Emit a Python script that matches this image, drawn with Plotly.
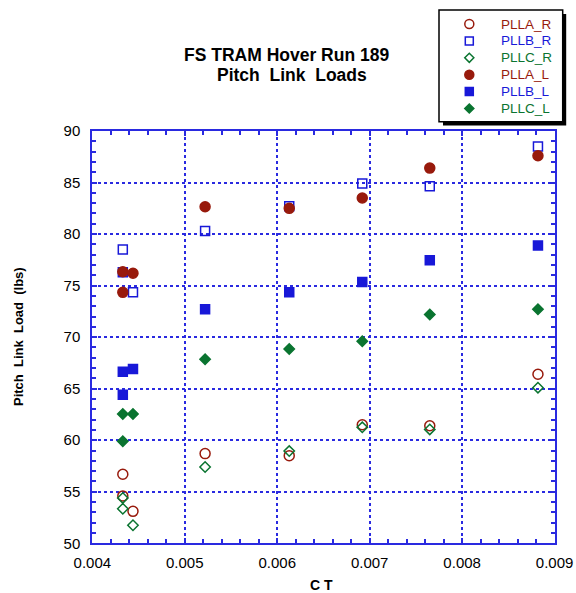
import plotly.graph_objects as go

# ---------------- data ----------------
ct = [0.00433, 0.00433, 0.00444, 0.00522, 0.00613, 0.00692, 0.00765, 0.00882]

plla_r = [56.7, 54.6, 53.1, 58.7, 58.5, 61.5, 61.4, 66.4]
pllb_r = [78.5, 76.3, 74.35, 80.3, 82.7, 84.9, 84.65, 88.5]
pllc_r = [54.4, 53.35, 51.75, 57.4, 58.95, 61.25, 61.05, 65.1]
plla_l = [76.35, 74.35, 76.2, 82.65, 82.5, 83.5, 86.4, 87.6]
pllb_l = [66.65, 64.4, 66.9, 72.7, 74.35, 75.35, 77.45, 78.9]
pllc_l = [62.55, 59.9, 62.55, 67.85, 68.85, 69.6, 72.2, 72.7]

series_names = ["PLLA_R", "PLLB_R", "PLLC_R", "PLLA_L", "PLLB_L", "PLLC_L"]
series_values = [plla_r, pllb_r, pllc_r, plla_l, pllb_l, pllc_l]

title_lines = ["FS TRAM Hover Run 189", "Pitch  Link  Loads"]
x_title = "C T"
y_title = "Pitch  Link  Load  (lbs)"

# ---------------- styles ----------------
RED = "#981a0c"
BLUE = "#1818d8"
GREEN = "#0a7430"
AXIS = "#2a2ae0"
FONT = "Liberation Sans, Arial, sans-serif"

symbols = ["circle-open", "square-open", "diamond-open", "circle", "square", "diamond"]
colors = [RED, BLUE, GREEN, RED, BLUE, GREEN]
sizes = [10, 9, 8, 10, 9, 8]

W, H = 576, 593
# plot area in pixels
PX0, PX1 = 92.3, 554.6
PY0, PY1 = 131.0, 543.3   # top, bottom


def px(x):
    return x / W


def py(y):
    return (H - y) / H


fig = go.Figure()
for name, ys, sym, col, sz in zip(series_names, series_values, symbols, colors, sizes):
    fig.add_trace(go.Scatter(
        x=ct, y=ys, mode="markers", name=name, showlegend=False,
        marker=dict(symbol=sym, color=col, size=sz, opacity=1,
                    line=dict(color=col, width=1.5)),
        xaxis="x", yaxis="y",
    ))

# ---------------- manual legend ----------------
LX0, LX1, LY0, LY1 = 439.0, 562.7, 10.0, 121.7
ROW0, ROWSTEP, MARKX, TEXTX = 14.0, 16.9, 30.3, 59.5
rows = [ROW0 + ROWSTEP * i for i in range(len(series_names))]

fig.add_trace(go.Scatter(
    x=[MARKX] * len(series_names), y=rows, mode="markers", showlegend=False,
    marker=dict(symbol=symbols, color=colors, size=[s - 1 for s in sizes], opacity=1,
                line=dict(color=colors, width=1.5)),
    xaxis="x2", yaxis="y2", cliponaxis=False, hoverinfo="skip",
))
for name, col, r in zip(series_names, colors, rows):
    fig.add_annotation(
        x=TEXTX, y=r, xref="x2", yref="y2", text=name, showarrow=False,
        xanchor="left", yanchor="middle",
        font=dict(family=FONT, size=13.5, color=col),
    )

# shadow + box
fig.add_shape(type="rect", xref="paper", yref="paper",
              x0=px(LX0 + 4), x1=px(LX1 + 3.5), y0=py(LY1 + 3.8), y1=py(LY0 + 4),
              fillcolor="black", line=dict(width=0), layer="below")
fig.add_shape(type="rect", xref="paper", yref="paper",
              x0=px(LX0), x1=px(LX1), y0=py(LY1), y1=py(LY0),
              fillcolor="white", line=dict(color="black", width=1.5), layer="below")

# ---------------- axes ----------------
axis_common = dict(
    showline=True, linecolor=AXIS, linewidth=2, mirror="ticks",
    ticks="inside", tickcolor=AXIS, ticklen=5, tickwidth=1.5,
    showgrid=True, gridcolor=AXIS, gridwidth=1.5, griddash="dot",
    zeroline=False, automargin=False,
    tickfont=dict(family=FONT, size=15, color="black"),
)

fig.update_layout(
    xaxis=dict(
        domain=[px(PX0), px(PX1)], anchor="y",
        range=[0.004, 0.009], dtick=0.001, tick0=0.004, tickformat=".3f",
        minor=dict(dtick=0.0002, ticks="inside", ticklen=4, tickcolor=AXIS,
                   tickwidth=1.5, showgrid=False),
        ticklabelstandoff=5,
        **axis_common,
    ),
    yaxis=dict(
        domain=[py(PY1), py(PY0)], anchor="x",
        range=[50, 90], dtick=5, tick0=50,
        minor=dict(dtick=1, ticks="inside", ticklen=4, tickcolor=AXIS,
                   tickwidth=1.5, showgrid=False),
        ticklabelstandoff=7,
        **axis_common,
    ),
    xaxis2=dict(domain=[px(LX0), px(LX1)], range=[0, LX1 - LX0], visible=False,
                anchor="y2", fixedrange=True),
    yaxis2=dict(domain=[py(LY1), py(LY0)], range=[LY1 - LY0, 0], visible=False,
                anchor="x2", fixedrange=True),
)

# titles as annotations
fig.add_annotation(x=px(286), y=py(55), xref="paper", yref="paper",
                   text=f"<b>{title_lines[0]}</b>", showarrow=False,
                   xanchor="center", yanchor="middle",
                   font=dict(family=FONT, size=17.5, color="black"))
fig.add_annotation(x=px(292), y=py(74.5), xref="paper", yref="paper",
                   text=f"<b>{title_lines[1]}</b>", showarrow=False,
                   xanchor="center", yanchor="middle",
                   font=dict(family=FONT, size=17.5, color="black"))
fig.add_annotation(x=px(321), y=py(585), xref="paper", yref="paper",
                   text=f"<b>{x_title}</b>", showarrow=False,
                   xanchor="center", yanchor="middle",
                   font=dict(family=FONT, size=14, color="black"))
fig.add_annotation(x=px(18), y=py(337), xref="paper", yref="paper",
                   text=f"<b>{y_title}</b>", showarrow=False, textangle=-90,
                   xanchor="center", yanchor="middle",
                   font=dict(family=FONT, size=13, color="black"))

fig.update_layout(
    width=W, height=H,
    margin=dict(l=0, r=0, t=0, b=0),
    paper_bgcolor="white", plot_bgcolor="white",
    showlegend=False,
)

fig.write_html("out.html")
